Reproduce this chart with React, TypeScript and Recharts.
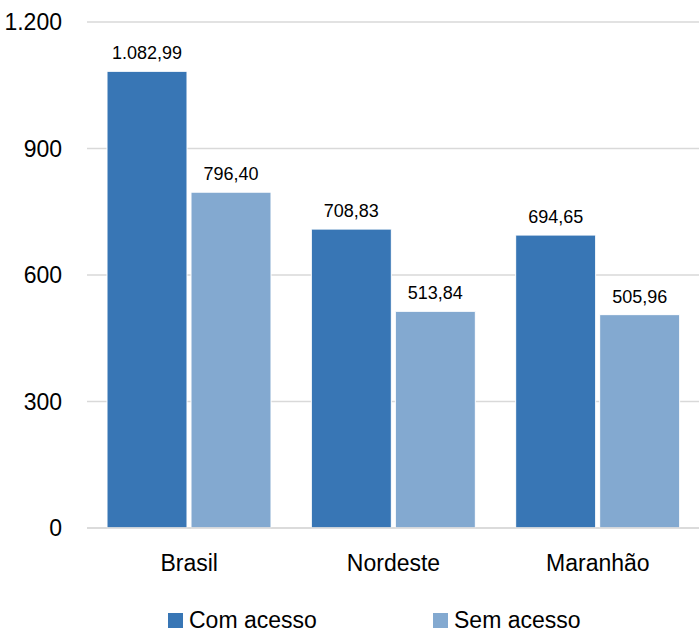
import { BarChart, Bar, XAxis, YAxis, CartesianGrid, Legend, LabelList } from "recharts";

const regions = ["Brasil", "Nordeste", "Maranhão"];
const comAcesso = [1082.99, 708.83, 694.65];
const semAcesso = [796.4, 513.84, 505.96];
const yTicks = [0, 300, 600, 900, 1200];

const COLORS = {
  com: "#3876b5",
  sem: "#83a9d0",
};

const FONT = "'Liberation Sans', Arial, sans-serif";

const data = regions.map((name, i) => ({ name, com: comAcesso[i], sem: semAcesso[i] }));

function formatBR(value: number, decimals: number) {
  const fixed = value.toFixed(decimals);
  const [intPart, decPart] = fixed.split(".");
  const withDots = intPart.replace(/\B(?=(\d{3})+(?!\d))/g, ".");
  return decPart ? `${withDots},${decPart}` : withDots;
}

function LegendContent() {
  const items = [
    { label: "Com acesso", color: COLORS.com, left: 168 },
    { label: "Sem acesso", color: COLORS.sem, left: 433 },
  ];
  return (
    <div style={{ position: "relative", height: 56, width: "100%" }}>
      {items.map((item) => (
        <div
          key={item.label}
          style={{
            position: "absolute",
            left: item.left,
            top: 29,
            display: "flex",
            alignItems: "center",
            fontFamily: FONT,
            fontSize: 23,
            color: "#000",
            lineHeight: "26px",
          }}
        >
          <span style={{ display: "inline-block", width: 15, height: 15, background: item.color, marginRight: 6 }} />
          {item.label}
        </div>
      ))}
    </div>
  );
}

export default function App() {
  return (
    <div style={{ position: "absolute", left: 0, top: 0, width: 699, height: 634, background: "#fff" }}>
      <BarChart
        width={700}
        height={634}
        data={data}
        margin={{ top: 22, right: 0, left: 0, bottom: 0 }}
        barGap={4}
        barCategoryGap={20}
      >
        <CartesianGrid vertical={false} stroke="#d9d9d9" strokeWidth={1.5} />
        <XAxis
          dataKey="name"
          height={50}
          tickLine={false}
          axisLine={{ stroke: "#d9d9d9", strokeWidth: 1.5 }}
          tickSize={0}
          tickMargin={27}
          tick={{ fill: "#000", fontSize: 23, fontFamily: FONT }}
        />
        <YAxis
          width={87}
          domain={[0, 1200]}
          ticks={yTicks}
          tickFormatter={(v: number) => formatBR(v, 0)}
          axisLine={false}
          tickLine={false}
          tickSize={0}
          tickMargin={25}
          tick={{ fill: "#000", fontSize: 23, fontFamily: FONT }}
        />
        <Legend verticalAlign="bottom" content={() => <LegendContent />} />
        <Bar dataKey="com" name="Com acesso" fill={COLORS.com} stroke="#ffffff" strokeWidth={1} isAnimationActive={false}>
          <LabelList
            dataKey="com"
            position="top"
            offset={12}
            formatter={(v: number) => formatBR(v, 2)}
            style={{ fill: "#000", fontSize: 18, fontFamily: FONT }}
          />
        </Bar>
        <Bar dataKey="sem" name="Sem acesso" fill={COLORS.sem} stroke="#ffffff" strokeWidth={1} isAnimationActive={false}>
          <LabelList
            dataKey="sem"
            position="top"
            offset={12}
            formatter={(v: number) => formatBR(v, 2)}
            style={{ fill: "#000", fontSize: 18, fontFamily: FONT }}
          />
        </Bar>
      </BarChart>
    </div>
  );
}
